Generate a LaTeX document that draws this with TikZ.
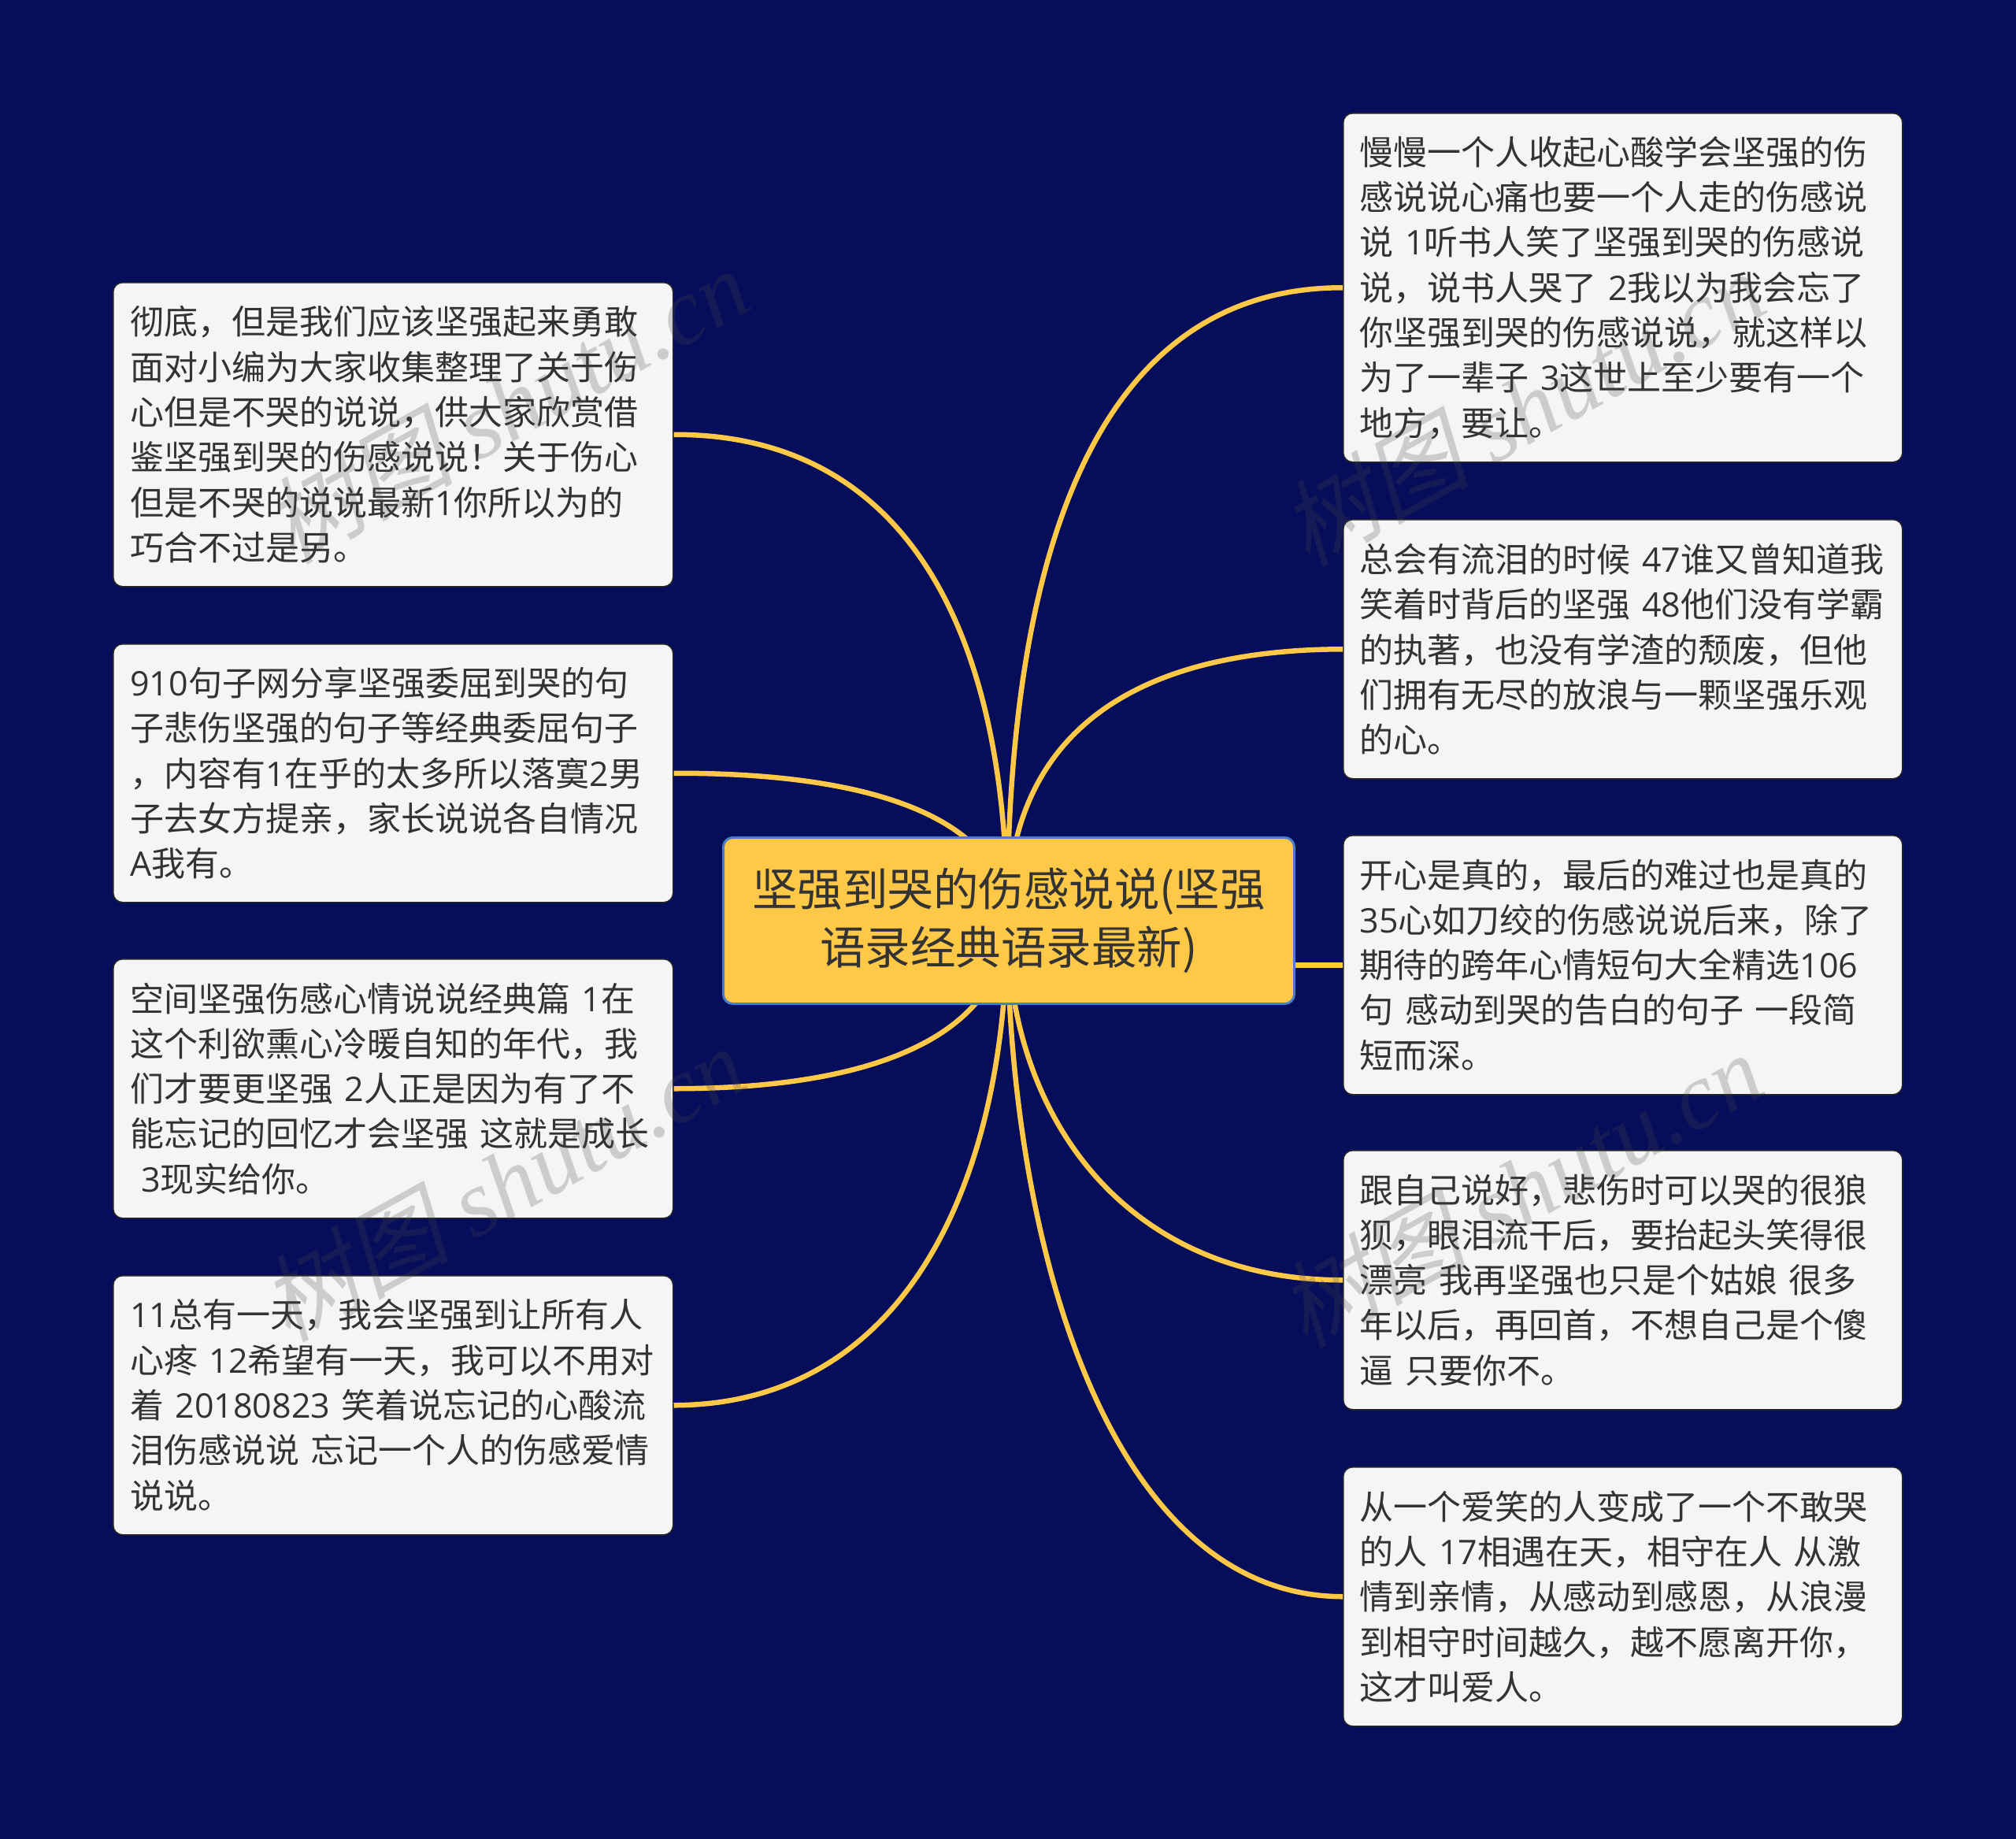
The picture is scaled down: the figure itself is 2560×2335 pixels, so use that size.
\documentclass[tikz,border=0pt]{standalone}
\usepackage{fontspec}
\setmainfont{Liberation Serif}
\newfontfamily\cjk[WordSpace=0.83]{Noto Sans CJK SC}
\newfontfamily\cjkmark[FakeSlant=0.22]{Noto Sans CJK SC}
\newfontfamily\lat{Open Sans}
\definecolor{bgc}{HTML}{060D5A}
\definecolor{boxc}{HTML}{F5F5F5}
\definecolor{linkc}{HTML}{FFC846}
\definecolor{rootc}{HTML}{FFC846}
\definecolor{rootb}{HTML}{4A7CC8}
\definecolor{inkc}{HTML}{333333}
\definecolor{markc}{HTML}{4B4B4B}
\tikzset{
  x=1pt,y=-1pt,
  leaf/.style={anchor=north west,draw=black!85,line width=1.5pt,fill=boxc,rounded corners=12pt,
    text=inkc,inner xsep=21pt,inner ysep=0pt,minimum width=#1,text width=668pt,align=left,
    font=\cjk\fontsize{43}{57.3}\selectfont},
  rootbox/.style={anchor=north west,draw=rootb,line width=3pt,fill=rootc,rounded corners=12pt,
    text=inkc,minimum width=725pt,minimum height=211pt,inner sep=0pt,align=center,
    font=\cjk\fontsize{57.5}{74}\selectfont},
  link/.style={draw=linkc,line width=6.5pt},
  stamp/.style={rotate=29,text=markc,opacity=0.24,inner sep=0pt,font=\fontsize{120}{120}\selectfont\itshape},
}
\newcommand{\mk}{{\cjkmark 树图} shutu.cn}
\newcommand{\dg}[1]{{\lat #1}}
\begin{document}
\begin{tikzpicture}
\useasboundingbox (0,0) rectangle (2560,2335);
\fill[bgc] (0,0) rectangle (2560,2335);
\coordinate (hub) at (1279,1167);
\node[leaf=711pt,minimum height=386pt] (l1) at (143,358) {彻底，但是我们应该坚强起来勇敢\\面对小编为大家收集整理了关于伤\\心但是不哭的说说，供大家欣赏借\\鉴坚强到哭的伤感说说！关于伤心\\但是不哭的说说最新\dg{1}你所以为的\\巧合不过是另。};
\node[leaf=711pt,minimum height=328pt] (l2) at (143,817) {\dg{910}句子网分享坚强委屈到哭的句\\子悲伤坚强的句子等经典委屈句子\\，内容有\dg{1}在乎的太多所以落寞\dg{2}男\\子去女方提亲，家长说说各自情况\\\dg{A}我有。};
\node[leaf=711pt,minimum height=329pt] (l3) at (143,1217) {空间坚强伤感心情说说经典篇 \dg{1}在\\这个利欲熏心冷暖自知的年代，我\\们才要更坚强 \dg{2}人正是因为有了不\\能忘记的回忆才会坚强 这就是成长\\\hspace*{14pt}\dg{3}现实给你。};
\node[leaf=711pt,minimum height=329pt] (l4) at (143,1619) {\dg{11}总有一天，我会坚强到让所有人\\心疼 \dg{12}希望有一天，我可以不用对\\着 \dg{20180823} 笑着说忘记的心酸流\\泪伤感说说 忘记一个人的伤感爱情\\说说。};
\node[leaf=710pt,minimum height=443pt] (r1) at (1705,143) {慢慢一个人收起心酸学会坚强的伤\\感说说心痛也要一个人走的伤感说\\说 \dg{1}听书人笑了坚强到哭的伤感说\\说，说书人哭了 \dg{2}我以为我会忘了\\你坚强到哭的伤感说说，就这样以\\为了一辈子 \dg{3}这世上至少要有一个\\地方，要让。};
\node[leaf=710pt,minimum height=329pt] (r2) at (1705,659) {总会有流泪的时候 \dg{47}谁又曾知道我\\笑着时背后的坚强 \dg{48}他们没有学霸\\的执著，也没有学渣的颓废，但他\\们拥有无尽的放浪与一颗坚强乐观\\的心。};
\node[leaf=710pt,minimum height=329pt] (r3) at (1705,1060) {开心是真的，最后的难过也是真的\\\dg{35}心如刀绞的伤感说说后来，除了\\期待的跨年心情短句大全精选\dg{106}\\句 感动到哭的告白的句子 一段简\\短而深。};
\node[leaf=710pt,minimum height=329pt] (r4) at (1705,1460) {跟自己说好，悲伤时可以哭的很狼\\狈，眼泪流干后，要抬起头笑得很\\漂亮 我再坚强也只是个姑娘 很多\\年以后，再回首，不想自己是个傻\\逼 只要你不。};
\node[leaf=710pt,minimum height=329pt] (r5) at (1705,1862) {从一个爱笑的人变成了一个不敢哭\\的人 \dg{17}相遇在天，相守在人 从激\\情到亲情，从感动到感恩，从浪漫\\到相守时间越久，越不愿离开你，\\这才叫爱人。};
\draw[link] (hub) .. controls (1279,750) and (1370,365) .. (r1.west);
\draw[link] (hub) .. controls (1279,930) and (1440,825) .. (r2.west);
\draw[link] (hub |- r3.west) -- (r3.west);
\draw[link] (hub) .. controls (1279,1430) and (1440,1626) .. (r4.west);
\draw[link] (hub) .. controls (1279,1560) and (1400,2026) .. (r5.west);
\draw[link] (hub) .. controls (1279,800) and (1150,551) .. (l1.east);
\draw[link] (hub) .. controls (1279,1080) and (1190,981) .. (l2.east);
\draw[link] (hub) .. controls (1279,1270) and (1190,1382) .. (l3.east);
\draw[link] (hub) .. controls (1279,1500) and (1150,1784) .. (l4.east);
\node[rootbox] (root) at (917,1062) {坚强到哭的伤感说说(坚强\\语录经典语录最新)};
\node[stamp] (w1) at (643,514) {\mk};
\node[stamp] (w2) at (638,1502) {\mk};
\node[stamp] (w3) at (1933,518) {\mk};
\node[stamp] (w4) at (1930,1510) {\mk};
\end{tikzpicture}
\end{document}
